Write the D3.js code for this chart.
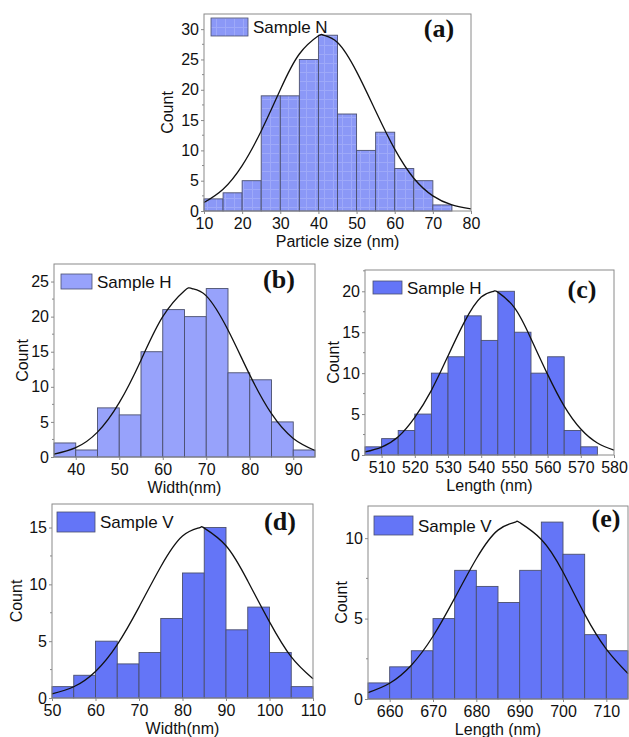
<!DOCTYPE html>
<html>
<head>
<meta charset="utf-8">
<script src="https://cdn.jsdelivr.net/npm/d3@7"></script>
<style>
  html, body { margin: 0; padding: 0; background: #fff; }
  svg { display: block; }
</style>
</head>
<body>
<svg id="chart" width="629" height="737"></svg>
<script>
// ---------- DATA ----------
// Panel (a) – Sample N, particle size
const binsA = [10, 15, 20, 25, 30, 35, 40, 45, 50, 55, 60, 65, 70];
const countsA = [2, 3, 5, 19, 19, 25, 29, 16, 10, 13, 7, 5, 1];
const fitXA = [10, 15, 20, 25, 30, 35, 40, 41.3, 45, 50, 55, 60, 65, 70, 75, 80];
const fitYA = [1.4, 3.6, 7.5, 13.2, 20, 25.9, 28.9, 29, 27.8, 23, 16.5, 10.2, 5.4, 2.5, 1.0, 0.35];
const xTicksA = [10, 20, 30, 40, 50, 60, 70, 80];
const yTicksA = [0, 5, 10, 15, 20, 25, 30];

// Panel (b) – Sample H, width
const binsB = [35, 40, 45, 50, 55, 60, 65, 70, 75, 80, 85, 90];
const countsB = [2, 1, 7, 6, 15, 21, 20, 24, 12, 11, 5, 1];
const fitXB = [35, 40, 45, 50, 55, 60, 65, 66.7, 70, 75, 80, 85, 90, 95];
const fitYB = [0.41, 1.33, 3.55, 7.74, 13.8, 20.0, 23.7, 24, 22.96, 18.1, 11.7, 6.17, 2.65, 0.93];
const xTicksB = [40, 50, 60, 70, 80, 90];
const yTicksB = [0, 5, 10, 15, 20, 25];

// Panel (c) – Sample H, length
const binsC = [505, 510, 515, 520, 525, 530, 535, 540, 545, 550, 555, 560, 565, 570];
const countsC = [1, 2, 3, 5, 10, 12, 17, 14, 20, 15, 10, 12, 3, 1];
const fitXC = [505, 510, 515, 520, 525, 530, 535, 540, 543.7, 545, 550, 555, 560, 565, 570, 575, 580];
const fitYC = [0.37, 0.97, 2.23, 4.6, 7.9, 12.1, 16.3, 19.3, 20, 19.9, 18, 14.2, 9.85, 5.97, 3.17, 1.47, 0.6];
const xTicksC = [510, 520, 530, 540, 550, 560, 570, 580];
const yTicksC = [0, 5, 10, 15, 20];

// Panel (d) – Sample V, width
const binsD = [50, 55, 60, 65, 70, 75, 80, 85, 90, 95, 100, 105];
const countsD = [1, 2, 5, 3, 4, 7, 11, 15, 6, 8, 4, 1];
const fitXD = [50, 55, 60, 65, 70, 75, 80, 84, 85, 90, 95, 100, 105, 110];
const fitYD = [0.36, 0.99, 2.34, 4.7, 8.0, 11.55, 14.25, 15, 14.95, 13.4, 10.3, 6.7, 3.62, 1.69];
const xTicksD = [50, 60, 70, 80, 90, 100, 110];
const yTicksD = [0, 5, 10, 15];

// Panel (e) – Sample V, length
const binsE = [655, 660, 665, 670, 675, 680, 685, 690, 695, 700, 705, 710];
const countsE = [1, 2, 3, 5, 8, 7, 6, 8, 11, 9, 4, 3];
const fitXE = [655, 660, 665, 670, 675, 680, 685, 689, 690, 695, 700, 705, 710, 715];
const fitYE = [0.4, 0.98, 2.1, 3.9, 6.27, 8.72, 10.5, 11, 10.97, 9.92, 7.9, 5.28, 3.1, 1.58];
const xTicksE = [660, 670, 680, 690, 700, 710];
const yTicksE = [0, 5, 10];

const binWidth = 5;

// ---------- PANELS ----------
const panels = [
  { id: "a", bins: binsA, counts: countsA, fitX: fitXA, fitY: fitYA, xTicks: xTicksA, yTicks: yTicksA,
    xDomain: [10, 80], yDomain: [0, 32.5], box: { l: 204, r: 471, t: 14, b: 211 },
    fill: "url(#gridA)", legendFill: "url(#gridA)", legend: "Sample N", label: "(a)", xLabel: "Particle size (nm)",
    countX: 167, leg: { x: 211, y: 18, w: 37, h: 18 }, tag: { x: 439, y: 37 } },
  { id: "b", bins: binsB, counts: countsB, fitX: fitXB, fitY: fitYB, xTicks: xTicksB, yTicks: yTicksB,
    xDomain: [35, 95], yDomain: [0, 27.5], box: { l: 54, r: 315, t: 264, b: 457 },
    fill: "#97a2fb", legendFill: "#97a2fb", legend: "Sample H", label: "(b)", xLabel: "Width(nm)",
    countX: 22, leg: { x: 61, y: 274, w: 31, h: 15 }, tag: { x: 279, y: 288 } },
  { id: "c", bins: binsC, counts: countsC, fitX: fitXC, fitY: fitYC, xTicks: xTicksC, yTicks: yTicksC,
    xDomain: [505, 580], yDomain: [0, 22.6], box: { l: 365, r: 614, t: 270, b: 455 },
    fill: "#6475f7", legendFill: "#6475f7", legend: "Sample H", label: "(c)", xLabel: "Length (nm)",
    countX: 333, leg: { x: 373, y: 281, w: 29, h: 13 }, tag: { x: 582, y: 298 } },
  { id: "d", bins: binsD, counts: countsD, fitX: fitXD, fitY: fitYD, xTicks: xTicksD, yTicks: yTicksD,
    xDomain: [50, 110], yDomain: [0, 17.07], box: { l: 52, r: 313, t: 504, b: 698 },
    fill: "#6475f7", legendFill: "#6475f7", legend: "Sample V", label: "(d)", xLabel: "Width(nm)",
    countX: 16, leg: { x: 57, y: 512, w: 38, h: 20 }, tag: { x: 280, y: 530 } },
  { id: "e", bins: binsE, counts: countsE, fitX: fitXE, fitY: fitYE, xTicks: xTicksE, yTicks: yTicksE,
    xDomain: [655, 715], yDomain: [0, 12], box: { l: 368, r: 628, t: 506, b: 699 },
    fill: "#6475f7", legendFill: "#6475f7", legend: "Sample V", label: "(e)", xLabel: "Length (nm)",
    countX: 341, leg: { x: 374, y: 516, w: 39, h: 19 }, tag: { x: 606, y: 527 } }
];

const svg = d3.select("#chart");
const SANS = "'Liberation Sans', Arial, sans-serif";
const SERIF = "'Liberation Serif', 'Times New Roman', serif";

// grid pattern for panel (a)
const defs = svg.append("defs");
const pat = defs.append("pattern").attr("id", "gridA").attr("patternUnits", "userSpaceOnUse")
  .attr("width", 9).attr("height", 9);
pat.append("rect").attr("width", 9).attr("height", 9).attr("fill", "#8b98f7");
pat.append("path").attr("d", "M0,0.5H9M0.5,0V9").attr("stroke", "#9ea9f9").attr("stroke-width", 1).attr("fill", "none");

panels.forEach(p => {
  const g = svg.append("g");
  const x = d3.scaleLinear().domain(p.xDomain).range([p.box.l, p.box.r]);
  const y = d3.scaleLinear().domain(p.yDomain).range([p.box.b, p.box.t]);

  // bars
  g.selectAll("rect.bar").data(p.bins.map((b, i) => ({ x0: b, c: p.counts[i] })))
    .join("rect").attr("class", "bar")
    .attr("x", d => x(d.x0))
    .attr("width", d => x(d.x0 + binWidth) - x(d.x0))
    .attr("y", d => y(d.c))
    .attr("height", d => y(0) - y(d.c))
    .attr("fill", p.fill)
    .attr("stroke", "#4a4f6e")
    .attr("stroke-width", 0.9);

  // fit curve
  const line = d3.line().x(d => x(d[0])).y(d => y(d[1])).curve(d3.curveNatural);
  g.append("path").datum(p.fitX.map((v, i) => [v, p.fitY[i]]))
    .attr("d", line).attr("fill", "none").attr("stroke", "#111").attr("stroke-width", 1.3);

  // frame
  g.append("rect").attr("x", p.box.l).attr("y", p.box.t)
    .attr("width", p.box.r - p.box.l).attr("height", p.box.b - p.box.t)
    .attr("fill", "none").attr("stroke", "#8a8a8a").attr("stroke-width", 1);

  // y axis
  const yAxis = d3.axisLeft(y).tickValues(p.yTicks).tickSize(3).tickPadding(2).tickFormat(d3.format("d"));
  const ya = g.append("g").attr("transform", `translate(${p.box.l},0)`).call(yAxis);
  ya.select(".domain").remove();
  ya.selectAll(".tick line").attr("stroke", "#8a8a8a");
  ya.selectAll(".tick text").attr("font-family", SANS).attr("font-size", 16).attr("fill", "#111");
  // minor ticks
  const minor = [];
  for (let i = 0; i < p.yTicks.length; i++) {
    const m = p.yTicks[i] + 2.5;
    if (m < p.yDomain[1]) minor.push(m);
  }
  g.selectAll("line.minor").data(minor).join("line").attr("class", "minor")
    .attr("x1", p.box.l - 2).attr("x2", p.box.l).attr("y1", d => y(d)).attr("y2", d => y(d))
    .attr("stroke", "#8a8a8a");

  // x axis
  const xAxis = d3.axisBottom(x).tickValues(p.xTicks).tickSize(3).tickPadding(4).tickFormat(d3.format("d"));
  const xa = g.append("g").attr("transform", `translate(0,${p.box.b})`).call(xAxis);
  xa.select(".domain").remove();
  xa.selectAll(".tick line").attr("stroke", "#8a8a8a");
  xa.selectAll(".tick text").attr("font-family", SANS).attr("font-size", 16).attr("fill", "#111");

  // axis titles
  g.append("text").attr("x", (p.box.l + p.box.r) / 2).attr("y", p.box.b + 36)
    .attr("text-anchor", "middle").attr("font-family", SANS).attr("font-size", 16).attr("fill", "#111")
    .text(p.xLabel);
  g.append("text").attr("transform", `translate(${p.countX + 6},${(p.box.t + p.box.b) / 2}) rotate(-90)`)
    .attr("text-anchor", "middle").attr("font-family", SANS).attr("font-size", 16).attr("fill", "#111")
    .text("Count");

  // legend
  g.append("rect").attr("x", p.leg.x).attr("y", p.leg.y).attr("width", p.leg.w).attr("height", p.leg.h)
    .attr("fill", p.legendFill).attr("stroke", "#4a4f6e").attr("stroke-width", 0.8);
  g.append("text").attr("x", p.leg.x + p.leg.w + 5).attr("y", p.leg.y + p.leg.h / 2 + 6)
    .attr("font-family", SANS).attr("font-size", 17).attr("fill", "#111").text(p.legend);

  // panel tag
  g.append("text").attr("x", p.tag.x).attr("y", p.tag.y).attr("text-anchor", "middle")
    .attr("font-family", SERIF).attr("font-weight", "bold").attr("font-size", 26).attr("fill", "#111")
    .text(p.label);
});
</script>
</body>
</html>
